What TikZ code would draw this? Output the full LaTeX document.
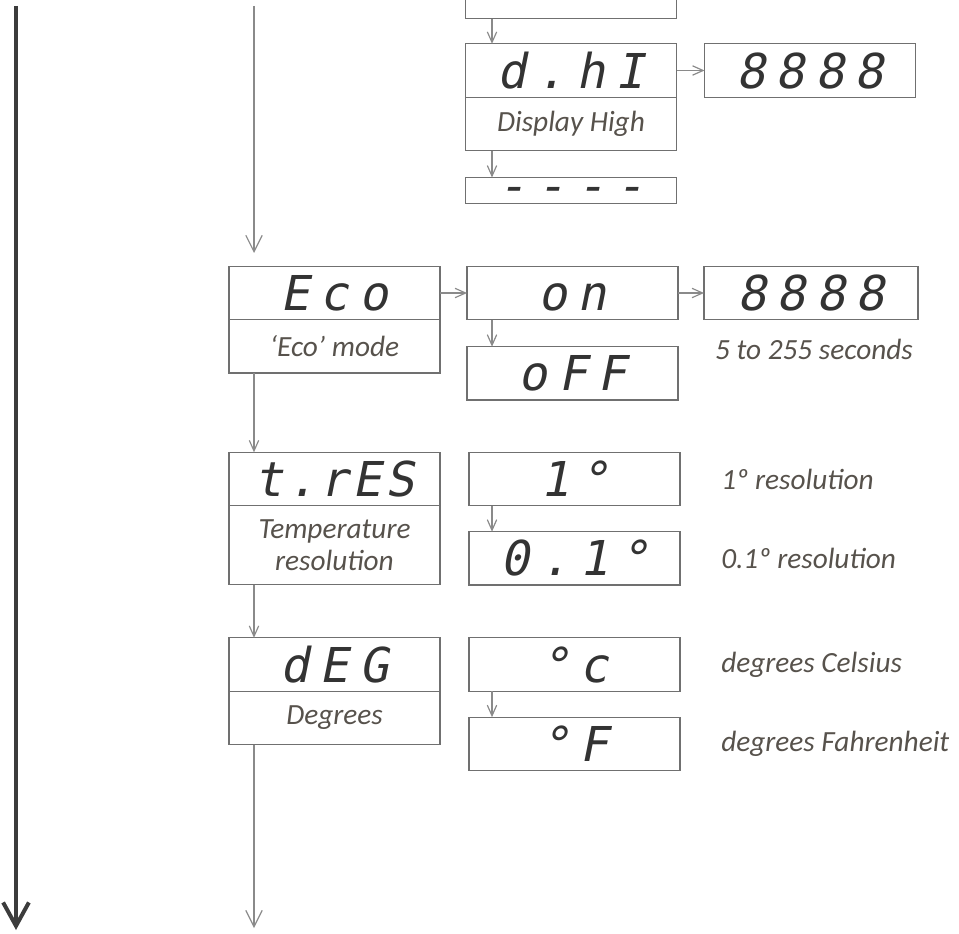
\documentclass[tikz,border=0pt]{standalone}
\usepackage{fontspec}
\setmainfont{Carlito}
\newfontfamily\segfont[FakeSlant=0.2,LetterSpace=22]{DejaVu Sans Mono}
\usepackage{tikz}
\usetikzlibrary{arrows.meta, positioning}
\definecolor{boxgray}{HTML}{707070}
\definecolor{linegray}{HTML}{8A8A8A}
\definecolor{segink}{HTML}{333333}
\definecolor{lblink}{HTML}{57524C}
\definecolor{mainink}{HTML}{3C3C3C}
\newcommand{\lblsize}{\fontsize{25}{28}\selectfont}
\newcommand{\segsize}{\fontsize{41}{41}\selectfont}
\tikzset{
  segbox/.style={rectangle, draw=boxgray, line width=1.1pt, outer sep=0pt, inner sep=0pt, minimum width=6.33cm, minimum height=1.6cm, text=segink, font=\segfont\segsize, text height=30pt, text depth=0pt},
  lblbox/.style={rectangle, draw=boxgray, line width=1.1pt, outer sep=0pt, inner sep=0pt, minimum width=6.33cm, minimum height=1.6cm, text=lblink, font=\lblsize\itshape, align=center},
  note/.style={text=lblink, font=\lblsize\itshape, inner sep=0pt},
  flow/.style={draw=linegray, line width=1pt, -{Straight Barb[length=9pt,width=8pt]}},
  longflow/.style={draw=linegray, line width=1pt, -{Straight Barb[length=14pt,width=14pt]}},
  mainflow/.style={draw=mainink, line width=3.4pt, -{Straight Barb[length=20pt,width=22pt]}},
}
\begin{document}
\begin{tikzpicture}[x=0.03cm, y=-0.03cm]
\useasboundingbox (0,0) rectangle (959,934);
% display high branch
\node[segbox] (dhi) at (571,70.5) {d.hI};
\node[lblbox, below=0pt of dhi] (dhilbl) {Display High};
\node[lblbox, above=0.75cm of dhi] (dlo) {};
\node[segbox, right=0.84cm of dhi] (dhival) {8888};
\node[segbox, below=0.81cm of dhilbl, minimum height=0.78cm, text height=21pt] (dash) {----};
% eco
\node[segbox] (eco) at (334.5,293) {Eco};
\node[lblbox, below=0pt of eco] (ecolbl) {‘Eco’ mode};
\node[segbox, right=0.81cm of eco] (on) {on};
\node[segbox, below=0.81cm of on] (off) {oFF};
\node[segbox, right=0.78cm of on, minimum width=6.42cm] (ecoval) {8888};
\node[note] (secs) at (814,349) {5 to 255 seconds};
% temperature resolution
\node[segbox] (tres) at (334.5,479) {\addfontfeature{LetterSpace=8}t.rES};
\node[lblbox, below=0pt of tres, minimum height=2.37cm] (treslbl) {Temperature\\resolution};
\node[segbox, right=0.87cm of tres] (one) {1°};
\node[segbox, below=0.78cm of one] (tenth) {0.1°};
\node[note, right=1.23cm of one] (res1) {1º resolution};
\node[note, right=1.23cm of tenth] (res2) {0.1º resolution};
% degrees
\node[segbox] (deg) at (334.5,664.5) {dEG};
\node[lblbox, below=0pt of deg] (deglbl) {Degrees};
\node[segbox, right=0.87cm of deg] (degc) {°c};
\node[segbox, below=0.78cm of degc] (degf) {°F};
\node[note, right=1.23cm of degc] (cels) {degrees Celsius};
\node[note, right=1.23cm of degf] (fahr) {degrees Fahrenheit};

\coordinate (col) at (254,0);
\coordinate (sub) at (492,0);
\coordinate (ltop) at (16,6);
\coordinate (lbot) at (16,930);
\coordinate (mtop) at (254,6);
\coordinate (mbot) at (254,928);

\draw[mainflow] (ltop) -- (lbot);
\draw[longflow, shorten >=0.4cm] (mtop) -- (col |- eco.north);
\draw[flow] (col |- ecolbl.south) -- (col |- tres.north);
\draw[flow] (col |- treslbl.south) -- (col |- deg.north);
\draw[longflow] (col |- deglbl.south) -- (mbot);
\draw[flow] (sub |- dlo.south) -- (sub |- dhi.north);
\draw[flow] (sub |- dhilbl.south) -- (sub |- dash.north);
\draw[flow] (dhi.east) -- (dhival.west);
\draw[flow] (eco.east) -- (on.west);
\draw[flow] (on.east) -- (ecoval.west);
\draw[flow] (sub |- on.south) -- (sub |- off.north);
\draw[flow] (sub |- one.south) -- (sub |- tenth.north);
\draw[flow] (sub |- degc.south) -- (sub |- degf.north);
\end{tikzpicture}
\end{document}
